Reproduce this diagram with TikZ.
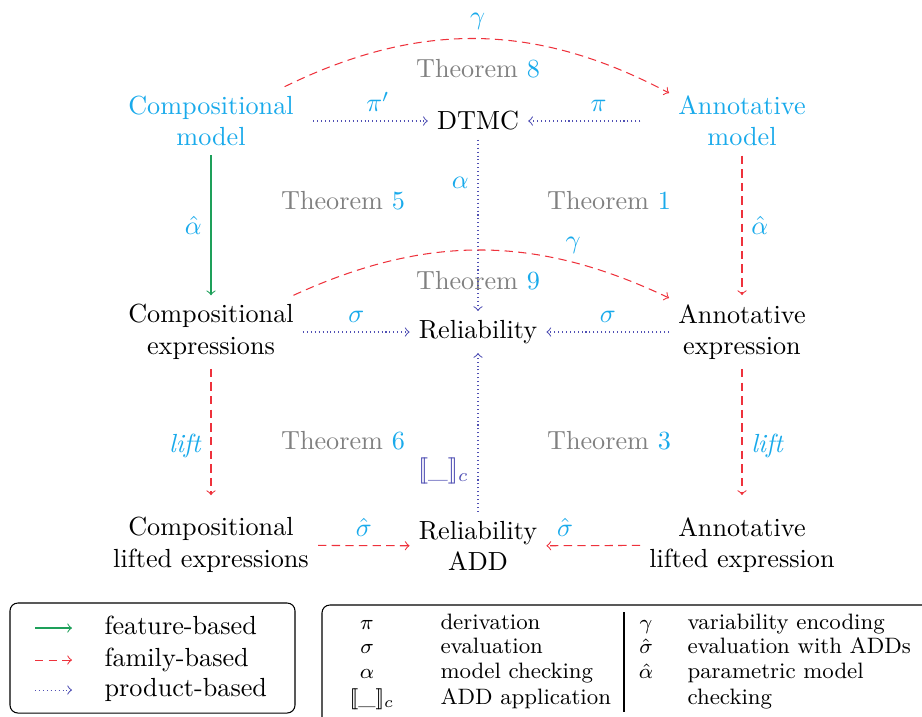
\documentclass[tikz,border=0pt]{standalone}
\usepackage{amsmath}
\definecolor{lbl}{RGB}{25,170,235}
\definecolor{thm}{RGB}{128,128,128}
\definecolor{famred}{RGB}{238,50,60}
\definecolor{featgreen}{RGB}{30,160,90}
\definecolor{prodblue}{RGB}{80,80,180}
\newcommand\thmtag[1]{{\color{thm}Theorem} {\color{lbl}#1}}
\newcommand\applyADD{[\![\_]\!]_c}
\tikzset{
  box/.style={align=center, inner sep=3.33pt},
  feat/.style={->, featgreen},
  fam/.style={->, famred, dash pattern=on 3.2pt off 2pt},
  prod/.style={->, prodblue, dash pattern=on 0.4pt off 1.1pt},
  lab/.style={text=lbl},
  legtext/.style={anchor=west, inner sep=0pt, text height=6.94pt, text depth=1.94pt},
  legsym/.style={inner sep=0pt, text height=6.94pt, text depth=1.94pt},
}
\begin{document}
\begin{tikzpicture}[x=0.3817pt, y=-0.3817pt]
\clip (0,0) rectangle (922,716);

% main objects
\node[box, text=lbl] (cm) at (211,121) {Compositional\\model};
\node[box] (dtmc) at (478,121) {DTMC};
\node[box, text=lbl] (am) at (742,121) {Annotative\\model};
\node[box] (ce) at (211,332) {Compositional\\expressions};
\node[box] (rel) at (478,332) {Reliability};
\node[box] (ae) at (742,332) {Annotative\\expression};
\node[box] (cl) at (211,545) {Compositional\\lifted expressions};
\node[box] (radd) at (478,546) {Reliability\\ADD};
\node[box] (al) at (742,545) {Annotative\\lifted expression};

% theorem tags
\node (t8) at (478,69) {\thmtag{8}};
\node (t5) at (343,201) {\thmtag{5}};
\node (t1) at (609,201) {\thmtag{1}};
\node (t9) at (478,281) {\thmtag{9}};
\node (t6) at (343,441) {\thmtag{6}};
\node (t3) at (609,441) {\thmtag{3}};

% transformations
\draw[prod, shorten <=4pt] (cm) -- node[lab, above, pos=0.6] {$\pi'$} (dtmc);
\draw[prod, shorten <=11pt] (am) -- node[lab, above] {$\pi$} (dtmc);
\draw[prod] (dtmc) -- node[lab, left, pos=0.25] {$\alpha$} (rel);
\draw[feat] (cm) -- node[lab, left] {$\hat\alpha$} (ce);
\draw[fam] (am) -- node[lab, right] {$\hat\alpha$} (ae);
\draw[prod] (ce) -- node[lab, above] {$\sigma$} (rel);
\draw[prod] (ae) -- node[lab, above] {$\sigma$} (rel);
\draw[fam, shorten >=5pt] (ce) -- node[lab, left, pos=0.55] {\textit{lift}} (cl);
\draw[fam, shorten >=5pt] (ae) -- node[lab, right, pos=0.55] {\textit{lift}} (al);
\draw[prod] (radd) -- node[left, pos=0.26, text=prodblue] {$\applyADD$} (rel);
\draw[fam] (cl) -- node[lab, above] {$\hat\sigma$} (radd);
\draw[fam] (al) -- node[lab, above, pos=0.8] {$\hat\sigma$} (radd);
\draw[fam] (cm.25) to[bend left=27] node[lab, above] {$\gamma$} (am.159);
\draw[fam] (ce.24) to[bend left=25] node[lab, above, pos=0.75] {$\gamma$} (ae.155);

% legend: kinds of analysis
\draw[rounded corners=3pt] (10,603) rectangle (295,713);
\coordinate (fa) at (35,628);  \coordinate (fb) at (72,628);
\coordinate (ma) at (35,660);  \coordinate (mb) at (72,660);
\coordinate (pa) at (35,690);  \coordinate (pb) at (72,690);
\draw[feat] (fa) -- (fb);
\draw[fam] (ma) -- (mb);
\draw[prod] (pa) -- (pb);
\node[legtext] (lf) at (104,628) {feature-based};
\node[legtext] (lm) at (104,660) {family-based};
\node[legtext] (lp) at (104,690) {product-based};

% legend: symbols
\draw[rounded corners=3pt] (322,605) rectangle (980,760);
\draw (624,612) -- (624,712);
\begin{scope}[font=\fontsize{8.5}{10}\selectfont]
\node[legsym] (s1) at (367,623) {$\pi$};
\node[legsym] (s2) at (367,647) {$\sigma$};
\node[legsym] (s3) at (367,672) {$\alpha$};
\node[legsym] (s4) at (372,698) {$\applyADD$};
\node[legtext] (d1) at (440,623) {derivation};
\node[legtext] (d2) at (440,647) {evaluation};
\node[legtext] (d3) at (440,672) {model checking};
\node[legtext] (d4) at (440,698) {ADD application};
\node[legsym] (g1) at (646,623) {$\gamma$};
\node[legsym] (g2) at (646,647) {$\hat\sigma$};
\node[legsym] (g3) at (646,672) {$\hat\alpha$};
\node[legtext] (e1) at (687,623) {variability encoding};
\node[legtext] (e2) at (687,647) {evaluation with ADDs};
\node[legtext] (e3) at (687,672) {parametric model};
\node[legtext] (e4) at (687,698) {checking};
\end{scope}
\end{tikzpicture}
\end{document}
